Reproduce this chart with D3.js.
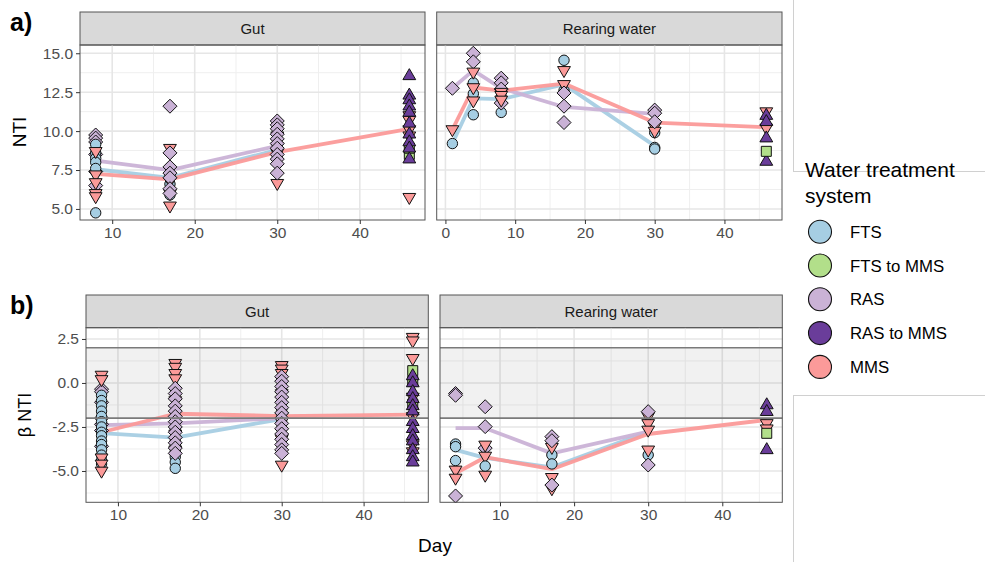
<!DOCTYPE html>
<html>
<head>
<meta charset="utf-8">
<script src="https://cdn.jsdelivr.net/npm/d3@7"></script>
<style>
  body { margin: 0; background: #fff; }
  svg { font-family: "Liberation Sans", Arial, sans-serif; }
</style>
</head>
<body>
<svg id="chart" width="985" height="562"></svg>
<script>
// groups of the water treatment system
const groups = ["FTS", "FTS to MMS", "RAS", "RAS to MMS", "MMS"];
const groupColors = ["#a6cee3", "#b2df8a", "#cab2d6", "#6a3d9a", "#fb9a99"];
const groupShapes = ["circle", "square", "diamond", "triUp", "triDown"];

// panel a) NTI, gut : [day, group, value]
const ntiGut = [
  [8,"RAS",9.75],[8,"RAS",9.55],[8,"RAS",9.3],[8,"RAS",8.5],[8,"RAS",7.4],[8,"RAS",6.5],
  [8,"FTS",9.15],[8,"FTS",8.6],[8,"FTS",8.25],[8,"FTS",8.0],[8,"FTS",7.6],[8,"FTS",4.75],
  [8,"MMS",8.7],[8,"MMS",7.2],[8,"MMS",6.7],[8,"MMS",6.0],[8,"MMS",5.8],
  [17,"FTS",7.1],[17,"FTS",6.6],[17,"FTS",6.2],[17,"FTS",5.9],
  [17,"MMS",8.9],[17,"MMS",6.8],[17,"MMS",6.0],[17,"MMS",5.2],
  [17,"RAS",11.6],[17,"RAS",8.6],[17,"RAS",7.7],[17,"RAS",7.3],[17,"RAS",7.0],[17,"RAS",6.3],[17,"RAS",6.0],
  [30,"FTS",9.2],[30,"FTS",8.8],[30,"FTS",8.4],
  [30,"MMS",9.7],[30,"MMS",9.0],[30,"MMS",8.6],[30,"MMS",6.65],
  [30,"RAS",10.65],[30,"RAS",10.4],[30,"RAS",10.15],[30,"RAS",9.8],[30,"RAS",9.5],[30,"RAS",9.2],
  [30,"RAS",8.9],[30,"RAS",8.5],[30,"RAS",8.2],[30,"RAS",7.9],[30,"RAS",7.3],
  [46,"FTS to MMS",8.5],[46,"FTS to MMS",8.9],
  [46,"MMS",11.0],[46,"MMS",10.7],[46,"MMS",10.1],[46,"MMS",9.7],[46,"MMS",5.75],
  [46,"RAS to MMS",13.55],[46,"RAS to MMS",12.3],[46,"RAS to MMS",12.0],[46,"RAS to MMS",11.6],
  [46,"RAS to MMS",11.2],[46,"RAS to MMS",10.5],[46,"RAS to MMS",9.8],[46,"RAS to MMS",9.3],
  [46,"RAS to MMS",8.9],[46,"RAS to MMS",8.2]
];
// panel a) NTI, rearing water
const ntiWater = [
  [1,"RAS",12.75],[1,"MMS",10.1],[1,"FTS",9.2],
  [4,"FTS",13.1],[4,"FTS",12.4],[4,"FTS",11.05],
  [4,"RAS",15.0],[4,"RAS",14.45],
  [4,"MMS",13.8],[4,"MMS",12.8],[4,"MMS",11.95],
  [8,"FTS",12.2],[8,"FTS",11.2],
  [8,"RAS",13.4],[8,"RAS",13.1],[8,"RAS",12.7],[8,"RAS",11.8],
  [8,"MMS",12.5],[8,"MMS",12.3],[8,"MMS",12.0],
  [17,"FTS",14.55],[17,"FTS",12.6],
  [17,"MMS",13.9],[17,"MMS",13.0],
  [17,"RAS",12.45],[17,"RAS",11.6],[17,"RAS",10.55],
  [30,"FTS",9.9],[30,"FTS",8.95],[30,"FTS",8.85],
  [30,"MMS",10.3],[30,"MMS",10.0],
  [30,"RAS",11.35],[30,"RAS",11.15],[30,"RAS",10.6],
  [46,"MMS",11.25],[46,"MMS",10.2],
  [46,"RAS to MMS",11.0],[46,"RAS to MMS",10.6],[46,"RAS to MMS",9.55],[46,"RAS to MMS",8.05],
  [46,"FTS to MMS",8.7]
];
// panel b) beta NTI, gut
const bntiGut = [
  [8,"RAS",-0.35],[8,"RAS",-0.5],[8,"RAS",-1.1],[8,"RAS",-2.0],[8,"RAS",-2.35],[8,"RAS",-2.7],[8,"RAS",-3.6],
  [8,"FTS",-0.7],[8,"FTS",-1.0],[8,"FTS",-1.3],[8,"FTS",-1.6],[8,"FTS",-1.9],[8,"FTS",-2.2],
  [8,"FTS",-2.5],[8,"FTS",-2.8],[8,"FTS",-3.0],[8,"FTS",-3.3],[8,"FTS",-3.5],[8,"FTS",-3.8],
  [8,"FTS",-4.1],[8,"FTS",-4.4],[8,"FTS",-4.6],
  [8,"MMS",0.45],[8,"MMS",0.2],[8,"MMS",-4.25],[8,"MMS",-4.6],[8,"MMS",-5.0],
  [17,"FTS",-2.6],[17,"FTS",-3.3],[17,"FTS",-3.6],[17,"FTS",-3.9],[17,"FTS",-4.2],[17,"FTS",-4.5],[17,"FTS",-4.85],
  [17,"MMS",1.12],[17,"MMS",0.9],[17,"MMS",0.55],[17,"MMS",0.25],[17,"MMS",-1.0],[17,"MMS",-2.9],[17,"MMS",-3.8],
  [17,"RAS",-0.3],[17,"RAS",-0.6],[17,"RAS",-0.9],[17,"RAS",-1.3],[17,"RAS",-1.6],[17,"RAS",-1.9],
  [17,"RAS",-2.2],[17,"RAS",-2.5],[17,"RAS",-2.8],[17,"RAS",-3.1],[17,"RAS",-3.4],[17,"RAS",-3.7],[17,"RAS",-4.0],
  [30,"FTS",-1.5],[30,"FTS",-2.1],[30,"FTS",-2.6],
  [30,"MMS",1.0],[30,"MMS",0.8],[30,"MMS",0.55],[30,"MMS",-0.6],[30,"MMS",-1.9],[30,"MMS",-3.2],[30,"MMS",-4.66],
  [30,"RAS",0.36],[30,"RAS",0.1],[30,"RAS",-0.2],[30,"RAS",-0.5],[30,"RAS",-0.8],[30,"RAS",-1.1],
  [30,"RAS",-1.4],[30,"RAS",-1.7],[30,"RAS",-2.0],[30,"RAS",-2.3],[30,"RAS",-2.6],[30,"RAS",-2.9],
  [30,"RAS",-3.2],[30,"RAS",-3.5],[30,"RAS",-3.8],[30,"RAS",-4.0],
  [46,"MMS",2.6],[46,"MMS",2.4],[46,"MMS",1.4],[46,"MMS",-0.8],[46,"MMS",-1.9],[46,"MMS",-3.5],[46,"MMS",-3.9],
  [46,"FTS to MMS",0.7],[46,"FTS to MMS",0.1],[46,"FTS to MMS",-1.2],
  [46,"RAS to MMS",0.4],[46,"RAS to MMS",0.0],[46,"RAS to MMS",-0.5],[46,"RAS to MMS",-0.9],
  [46,"RAS to MMS",-1.3],[46,"RAS to MMS",-1.6],[46,"RAS to MMS",-2.2],[46,"RAS to MMS",-2.6],
  [46,"RAS to MMS",-3.0],[46,"RAS to MMS",-3.3],[46,"RAS to MMS",-3.8],[46,"RAS to MMS",-4.2],[46,"RAS to MMS",-4.5]
];
// panel b) beta NTI, rearing water
const bntiWater = [
  [4,"RAS",-0.6],[4,"RAS",-0.7],[4,"RAS",-6.42],
  [4,"FTS",-3.47],[4,"FTS",-3.62],[4,"FTS",-4.41],
  [4,"MMS",-4.94],[4,"MMS",-5.4],
  [8,"RAS",-1.35],[8,"RAS",-2.48],[8,"RAS",-3.7],
  [8,"MMS",-3.52],[8,"MMS",-4.15],[8,"MMS",-5.23],
  [8,"FTS",-4.72],
  [17,"FTS",-4.09],[17,"FTS",-4.6],
  [17,"MMS",-3.65],[17,"MMS",-5.36],[17,"MMS",-6.0],
  [17,"RAS",-3.05],[17,"RAS",-3.28],[17,"RAS",-5.8],
  [30,"FTS",-4.09],
  [30,"MMS",-1.9],[30,"MMS",-2.3],[30,"MMS",-2.67],[30,"MMS",-3.8],
  [30,"RAS",-1.63],[30,"RAS",-4.66],
  [46,"MMS",-2.3],[46,"MMS",-2.6],
  [46,"FTS to MMS",-2.86],
  [46,"RAS to MMS",-1.25],[46,"RAS to MMS",-1.63],[46,"RAS to MMS",-3.8]
];

// mean lines : [day, group, mean]
const ntiGutMean = [
  [8,"FTS",7.55],[17,"FTS",7.0],[30,"FTS",8.8],
  [8,"RAS",8.1],[17,"RAS",7.5],[30,"RAS",9.05],
  [8,"MMS",7.25],[17,"MMS",6.9],[30,"MMS",8.65],[46,"MMS",10.15]
];
const ntiWaterMean = [
  [1,"FTS",9.2],[4,"FTS",12.1],[8,"FTS",12.05],[17,"FTS",13.0],[30,"FTS",9.05],
  [1,"RAS",12.75],[4,"RAS",13.9],[8,"RAS",12.75],[17,"RAS",11.55],[30,"RAS",11.1],
  [1,"MMS",10.1],[4,"MMS",12.8],[8,"MMS",12.6],[17,"MMS",13.05],[30,"MMS",10.55],[46,"MMS",10.25]
];
const bntiGutMean = [
  [8,"FTS",-2.85],[17,"FTS",-3.1],[30,"FTS",-2.05],
  [8,"RAS",-2.4],[17,"RAS",-2.3],[30,"RAS",-2.0],
  [8,"MMS",-2.8],[17,"MMS",-1.75],[30,"MMS",-1.88],[46,"MMS",-1.8]
];
const bntiWaterMean = [
  [4,"FTS",-3.8],[8,"FTS",-4.26],[17,"FTS",-4.79],[30,"FTS",-2.77],
  [4,"RAS",-2.57],[8,"RAS",-2.57],[17,"RAS",-4.0],[30,"RAS",-2.77],
  [4,"MMS",-5.13],[8,"MMS",-4.22],[17,"MMS",-4.9],[30,"MMS",-2.9],[46,"MMS",-2.1]
];

const xTicksGut = [10, 20, 30, 40];
const xTicksWater = [0, 10, 20, 30, 40];
const ntiTicks = [5.0, 7.5, 10.0, 12.5, 15.0];
const bntiTicks = [-5.0, -2.5, 0.0, 2.5];
const bntiBand = [-2, 2];

const svg = d3.select("#chart");
const colorOf = d3.scaleOrdinal().domain(groups).range(groupColors);
const shapeOf = d3.scaleOrdinal().domain(groups).range(groupShapes);

const shapes = {
  circle: d3.symbol(d3.symbolCircle, Math.PI * 27)(),
  square: "M-5,-5H5V5H-5Z",
  diamond: "M0,-7L7,0L0,7L-7,0Z",
  triUp: "M0,-7.2L6.4,3.8L-6.4,3.8Z",
  triDown: "M0,7.2L6.4,-3.8L-6.4,-3.8Z"
};

function minorsOf(ticks, step, domain) {
  let out = [];
  ticks.concat([ticks[0] - step]).forEach(t => {
    const m = t + step / 2;
    if (m > domain[0] && m < domain[1] && ticks.indexOf(m) < 0) out.push(m);
  });
  return out;
}

function drawPanel(p) {
  const x = d3.scaleLinear().domain(p.xDomain).range([p.x0, p.x1]);
  const y = d3.scaleLinear().domain(p.yDomain).range([p.y1, p.y0]);
  const g = svg.append("g");

  // strip
  g.append("rect").attr("x", p.x0).attr("y", p.stripTop)
    .attr("width", p.x1 - p.x0).attr("height", p.y0 - p.stripTop)
    .attr("fill", "#d9d9d9").attr("stroke", "#555").attr("stroke-width", 1);
  g.append("text").attr("x", (p.x0 + p.x1) / 2).attr("y", (p.stripTop + p.y0) / 2 + 5.5)
    .attr("text-anchor", "middle").attr("font-size", 15).attr("fill", "#1a1a1a").text(p.title);

  // grid
  const xMin = minorsOf(p.xTicks, 10, p.xDomain);
  const yMin = minorsOf(p.yTicks, 2.5, p.yDomain);
  g.selectAll(".gxm").data(xMin).enter().append("line")
    .attr("x1", d => x(d)).attr("x2", d => x(d)).attr("y1", p.y0).attr("y2", p.y1)
    .attr("stroke", "#efefef").attr("stroke-width", 1);
  g.selectAll(".gym").data(yMin).enter().append("line")
    .attr("y1", d => y(d)).attr("y2", d => y(d)).attr("x1", p.x0).attr("x2", p.x1)
    .attr("stroke", "#efefef").attr("stroke-width", 1);
  g.selectAll(".gx").data(p.xTicks).enter().append("line")
    .attr("x1", d => x(d)).attr("x2", d => x(d)).attr("y1", p.y0).attr("y2", p.y1)
    .attr("stroke", "#e6e6e6").attr("stroke-width", 1.6);
  g.selectAll(".gy").data(p.yTicks).enter().append("line")
    .attr("y1", d => y(d)).attr("y2", d => y(d)).attr("x1", p.x0).attr("x2", p.x1)
    .attr("stroke", "#e6e6e6").attr("stroke-width", 1.6);

  if (p.band) {
    g.append("rect").attr("x", p.x0).attr("width", p.x1 - p.x0)
      .attr("y", y(p.band[1])).attr("height", y(p.band[0]) - y(p.band[1]))
      .attr("fill", "#000").attr("fill-opacity", 0.055);
  }

  // mean lines
  const line = d3.line().x(d => x(d[0])).y(d => y(d[2]));
  ["FTS", "RAS", "MMS"].forEach(k => {
    const rows = p.means.filter(d => d[1] === k);
    g.append("path").attr("d", line(rows)).attr("fill", "none")
      .attr("stroke", colorOf(k)).attr("stroke-width", 3.8)
      .attr("stroke-linejoin", "round").attr("stroke-opacity", 0.95);
  });

  // points
  g.selectAll(".pt").data(p.points).enter().append("path")
    .attr("d", d => shapes[shapeOf(d[1])])
    .attr("transform", d => `translate(${x(d[0])},${y(d[2])})`)
    .attr("fill", d => colorOf(d[1])).attr("stroke", "#111").attr("stroke-width", 1);

  if (p.band) {
    g.selectAll(".hl").data(p.band).enter().append("line")
      .attr("x1", p.x0).attr("x2", p.x1).attr("y1", d => y(d)).attr("y2", d => y(d))
      .attr("stroke", "#7a7a7a").attr("stroke-width", 1.6);
  }

  // border
  g.append("rect").attr("x", p.x0).attr("y", p.y0)
    .attr("width", p.x1 - p.x0).attr("height", p.y1 - p.y0)
    .attr("fill", "none").attr("stroke", "#555").attr("stroke-width", 1);

  // axes
  const ax = g.append("g").attr("transform", `translate(0,${p.y1})`)
    .call(d3.axisBottom(x).tickValues(p.xTicks).tickSize(4).tickPadding(3).tickFormat(d3.format("d")));
  ax.select(".domain").remove();
  ax.selectAll("line").attr("stroke", "#333");
  ax.selectAll("text").attr("font-size", 15.5).attr("fill", "#4d4d4d").attr("font-family", null);

  if (p.showY) {
    const ay = g.append("g").attr("transform", `translate(${p.x0},0)`)
      .call(d3.axisLeft(y).tickValues(p.yTicks).tickSize(4).tickPadding(3).tickFormat(d3.format(".1f")));
    ay.select(".domain").remove();
    ay.selectAll("line").attr("stroke", "#333");
    ay.selectAll("text").attr("font-size", 15.5).attr("fill", "#4d4d4d").attr("font-family", null)
      .text(d => d3.format(".1f")(d).replace("−", "-"));
  }
}

// a) NTI
drawPanel({ title: "Gut", x0: 80, x1: 425, y0: 45, y1: 220, stripTop: 12,
  xDomain: [6.1, 47.9], yDomain: [4.29, 15.53], xTicks: xTicksGut, yTicks: ntiTicks,
  points: ntiGut, means: ntiGutMean, showY: true });
drawPanel({ title: "Rearing water", x0: 436.7, x1: 782, y0: 45, y1: 220, stripTop: 12,
  xDomain: [-1.25, 48.25], yDomain: [4.29, 15.53], xTicks: xTicksWater, yTicks: ntiTicks,
  points: ntiWater, means: ntiWaterMean, showY: false });

// b) beta NTI
drawPanel({ title: "Gut", x0: 86, x1: 428.3, y0: 327.7, y1: 502.3, stripTop: 295,
  xDomain: [6.1, 47.9], yDomain: [-6.78, 3.14], xTicks: xTicksGut, yTicks: bntiTicks,
  points: bntiGut, means: bntiGutMean, showY: true, band: bntiBand });
drawPanel({ title: "Rearing water", x0: 440, x1: 782.3, y0: 327.7, y1: 502.3, stripTop: 295,
  xDomain: [1.9, 48.1], yDomain: [-6.78, 3.14], xTicks: xTicksGut, yTicks: bntiTicks,
  points: bntiWater, means: bntiWaterMean, showY: false, band: bntiBand });

// labels
svg.append("text").attr("x", 10).attr("y", 31).attr("font-size", 25).attr("font-weight", "bold").text("a)");
svg.append("text").attr("x", 10).attr("y", 314).attr("font-size", 25).attr("font-weight", "bold").text("b)");
svg.append("text").attr("transform", "translate(26,132) rotate(-90)").attr("text-anchor", "middle")
  .attr("font-size", 19).attr("fill", "#000").text("NTI");
svg.append("text").attr("transform", "translate(31,415) rotate(-90)").attr("text-anchor", "middle")
  .attr("font-size", 18).attr("fill", "#000").text("β NTI");
svg.append("text").attr("x", 435).attr("y", 552).attr("text-anchor", "middle")
  .attr("font-size", 19).attr("fill", "#000").text("Day");

// legend frame lines
const frame = svg.append("g").attr("stroke", "#d0d0d0").attr("stroke-width", 1);
frame.append("line").attr("x1", 793.5).attr("x2", 793.5).attr("y1", 0).attr("y2", 172);
frame.append("line").attr("x1", 793.5).attr("x2", 985).attr("y1", 171.5).attr("y2", 171.5);
frame.append("line").attr("x1", 793.5).attr("x2", 985).attr("y1", 395.5).attr("y2", 395.5);
frame.append("line").attr("x1", 793.5).attr("x2", 793.5).attr("y1", 395).attr("y2", 562);

// legend
const leg = svg.append("g");
leg.append("text").attr("x", 805).attr("y", 177).attr("font-size", 21).text("Water treatment");
leg.append("text").attr("x", 805).attr("y", 203).attr("font-size", 21).text("system");
const item = leg.selectAll(".it").data(groups).enter().append("g")
  .attr("transform", (d, i) => `translate(820,${231.7 + i * 33.8})`);
item.append("circle").attr("r", 11.5).attr("fill", d => colorOf(d)).attr("stroke", "#111").attr("stroke-width", 1.1);
item.append("text").attr("x", 30).attr("y", 6).attr("font-size", 16.8).text(d => d);
</script>
</body>
</html>
